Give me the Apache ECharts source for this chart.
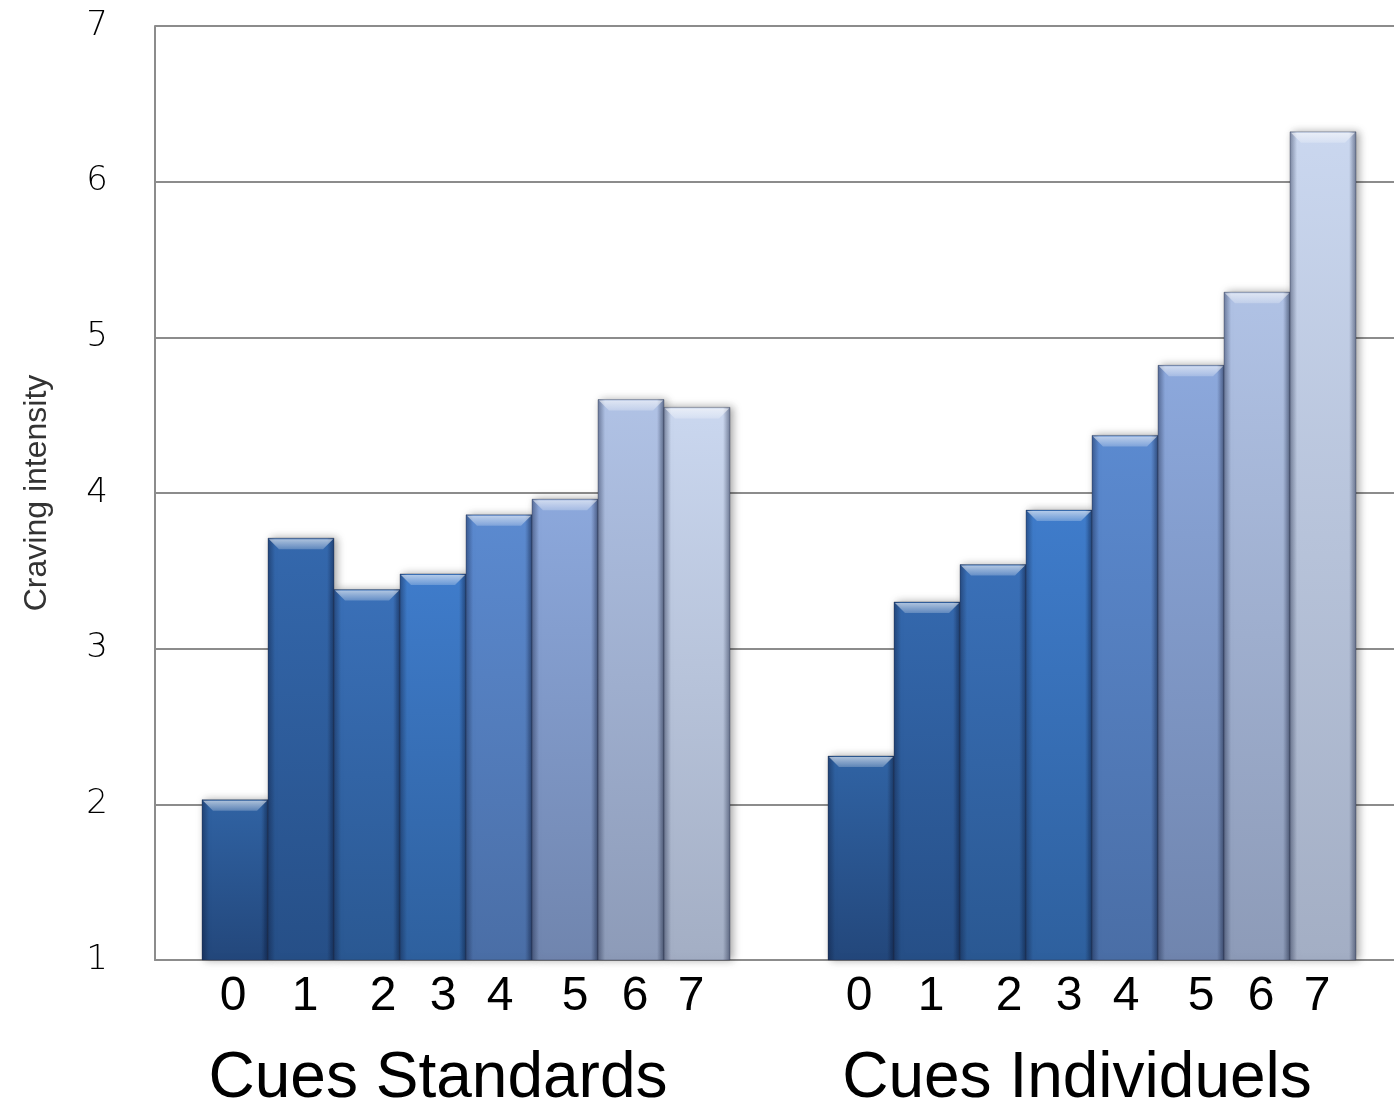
<!DOCTYPE html>
<html>
<head>
<meta charset="utf-8">
<title>Craving intensity</title>
<script src="https://cdn.jsdelivr.net/npm/echarts@6/dist/echarts.min.js"></script>
<style>
  html, body { margin: 0; padding: 0; background: #ffffff; }
  #chart { width: 1394px; height: 1104px; }
</style>
</head>
<body>
<div id="chart"></div>
<script>
// Exposure levels shown under each group of bars
const categories = ['0', '1', '2', '3', '4', '5', '6', '7'];
// Mean craving intensity per level
const cuesStandards = [2.03, 3.71, 3.38, 3.48, 3.86, 3.96, 4.60, 4.55];
const cuesIndividuels = [2.31, 3.30, 3.54, 3.89, 4.37, 4.82, 5.29, 6.32];
// Group titles
const groupNames = ['Cues Standards', 'Cues Individuels'];
// Value axis range
const yMin = 1;
const yMax = 7;
const yStep = 1;
const yAxisTitle = 'Craving intensity';

// Bar shading per level: [top colour, bottom colour]
const barShades = [
  ['#3063a4', '#23477b'],
  ['#3468ad', '#264f87'],
  ['#3a70b8', '#2a5892'],
  ['#3f7ccb', '#2e609e'],
  ['#5b8ad0', '#4a6ea6'],
  ['#8ca8dc', '#7085ae'],
  ['#b0c2e5', '#8d9bb8'],
  ['#cad7ef', '#a3aec4']
];
// Small horizontal nudges of the level labels, in px
const labelNudge = [-2, 4, 16, 10, 1, 10, 4, -6];

const FONT = '"Liberation Sans", Arial, sans-serif';

function renderBar(params, api) {
  const idx = api.value(0);
  const val = api.value(1);
  const top = api.coord([idx, val]);
  const base = api.coord([idx, yMin]);
  const w = api.size([1, 0])[0];
  const x0 = top[0] - w / 2;
  const y0 = top[1];
  const h = base[1] - top[1];
  const shade = barShades[idx];
  const edge = 7;
  const bevelH = 11;
  const bevelIn = 11;
  return {
    type: 'group',
    children: [
      {
        type: 'rect',
        shape: { x: x0, y: y0, width: w, height: h },
        style: {
          fill: new echarts.graphic.LinearGradient(0, 0, 0, 1, [
            { offset: 0, color: shade[0] },
            { offset: 1, color: shade[1] }
          ]),
          stroke: 'rgba(40,50,70,0.35)',
          lineWidth: 1,
          shadowBlur: 8,
          shadowOffsetX: 3,
          shadowOffsetY: 0,
          shadowColor: 'rgba(0,0,0,0.35)'
        }
      },
      {
        type: 'rect',
        shape: { x: x0, y: y0, width: edge, height: h },
        style: {
          fill: new echarts.graphic.LinearGradient(0, 0, 1, 0, [
            { offset: 0, color: 'rgba(10,20,50,0.40)' },
            { offset: 1, color: 'rgba(10,20,50,0)' }
          ])
        }
      },
      {
        type: 'rect',
        shape: { x: x0 + w - edge, y: y0, width: edge, height: h },
        style: {
          fill: new echarts.graphic.LinearGradient(0, 0, 1, 0, [
            { offset: 0, color: 'rgba(10,20,50,0)' },
            { offset: 1, color: 'rgba(10,20,50,0.45)' }
          ])
        }
      },
      {
        type: 'polygon',
        shape: {
          points: [
            [x0 + 1, y0 + 1],
            [x0 + w - 1, y0 + 1],
            [x0 + w - bevelIn, y0 + bevelH],
            [x0 + bevelIn, y0 + bevelH]
          ]
        },
        style: {
          fill: new echarts.graphic.LinearGradient(0, 0, 0, 1, [
            { offset: 0, color: 'rgba(255,255,255,0.60)' },
            { offset: 1, color: 'rgba(255,255,255,0.22)' }
          ])
        }
      }
    ]
  };
}

function toItems(values) {
  return values.map(function (v, i) { return [i, v]; });
}

const levelRich = {};
labelNudge.forEach(function (n, i) {
  levelRich['s' + i] = {
    fontFamily: FONT,
    fontSize: 48,
    color: '#000000',
    padding: n >= 0 ? [0, 0, 0, 2 * n] : [0, -2 * n, 0, 0]
  };
});

function groupAxis(gridIndex, name, nameShift) {
  return {
    type: 'category',
    gridIndex: gridIndex,
    data: categories,
    boundaryGap: true,
    axisLine: { show: false },
    axisTick: { show: false },
    splitLine: { show: false },
    axisLabel: {
      margin: 13,
      interval: 0,
      formatter: function (value, index) { return '{s' + index + '|' + value + '}'; },
      rich: levelRich
    },
    name: name,
    nameLocation: 'middle',
    nameGap: 87,
    nameTextStyle: {
      fontFamily: FONT,
      fontSize: 64,
      color: '#000000',
      padding: nameShift >= 0 ? [0, 0, 0, 2 * nameShift] : [0, -2 * nameShift, 0, 0]
    }
  };
}

function hiddenY(gridIndex) {
  return {
    type: 'value',
    gridIndex: gridIndex,
    min: yMin,
    max: yMax,
    interval: yStep,
    show: false,
    splitLine: { show: false }
  };
}

const chart = echarts.init(document.getElementById('chart'), null, { renderer: 'canvas' });

chart.setOption({
  backgroundColor: '#ffffff',
  animation: false,
  grid: [
    { left: 155, right: 0, top: 26, bottom: 144, containLabel: false, outerBoundsMode: 'none' },
    { left: 202, width: 528, top: 26, bottom: 144, containLabel: false, outerBoundsMode: 'none' },
    { left: 828, width: 528, top: 26, bottom: 144, containLabel: false, outerBoundsMode: 'none' }
  ],
  xAxis: [
    {
      type: 'value',
      gridIndex: 0,
      min: 0,
      max: 1,
      axisLine: { show: true, lineStyle: { color: '#8c8c8c', width: 2 } },
      axisTick: { show: false },
      axisLabel: { show: false },
      splitLine: { show: false }
    },
    groupAxis(1, groupNames[0], -28),
    groupAxis(2, groupNames[1], -15)
  ],
  yAxis: [
    {
      type: 'value',
      gridIndex: 0,
      min: yMin,
      max: yMax,
      interval: yStep,
      axisLine: { show: true, lineStyle: { color: '#8c8c8c', width: 2 } },
      axisTick: { show: false },
      axisLabel: {
        margin: 47,
        fontFamily: '"DejaVu Sans", sans-serif',
        fontWeight: 200,
        fontSize: 34,
        color: '#000000'
      },
      splitLine: { show: true, lineStyle: { color: '#8c8c8c', width: 2 } },
      name: yAxisTitle,
      nameLocation: 'middle',
      nameGap: 102,
      nameTextStyle: {
        fontFamily: '"Liberation Sans Narrow", "Liberation Sans", sans-serif',
        fontSize: 32,
        color: '#333333'
      }
    },
    hiddenY(1),
    hiddenY(2)
  ],
  series: [
    {
      name: groupNames[0],
      type: 'custom',
      xAxisIndex: 1,
      yAxisIndex: 1,
      renderItem: renderBar,
      encode: { x: 0, y: 1 },
      data: toItems(cuesStandards),
      z: 3
    },
    {
      name: groupNames[1],
      type: 'custom',
      xAxisIndex: 2,
      yAxisIndex: 2,
      renderItem: renderBar,
      encode: { x: 0, y: 1 },
      data: toItems(cuesIndividuels),
      z: 3
    }
  ]
});
</script>
</body>
</html>
